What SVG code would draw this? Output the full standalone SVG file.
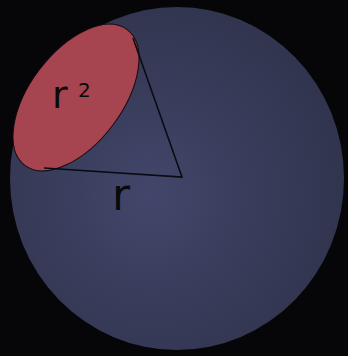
<svg xmlns="http://www.w3.org/2000/svg" width="348" height="356" viewBox="0 0 348 356">
<defs>
<radialGradient id="sph" cx="0.42" cy="0.55" r="0.6">
<stop offset="0" stop-color="#42466a"/>
<stop offset="1" stop-color="#30344d"/>
</radialGradient>
<style>
.lbl{font-family:"DejaVu Sans",sans-serif;fill:#0a0a0a}
.edge{fill:none;stroke:#0a0a12;stroke-width:1.6}
</style>
</defs>
<rect width="348" height="356" fill="#060608"/>
<g id="sphere"><ellipse cx="177" cy="178.5" rx="167" ry="171.5" fill="url(#sph)"/></g>
<g id="cap"><ellipse cx="76" cy="97.5" rx="85" ry="46" transform="rotate(-53 76 97.5)" fill="#a6444f" stroke="#1a0a10" stroke-width="1"/></g>
<g id="connectors">
<path class="edge" d="M133 38 L182 177 L44 168"/>
</g>
<g id="labels">
<text class="lbl" x="52" y="108" font-size="38">r</text>
<text class="lbl" x="78" y="97" font-size="20">2</text>
<text class="lbl" x="112" y="210" font-size="44">r</text>
</g>
</svg>
